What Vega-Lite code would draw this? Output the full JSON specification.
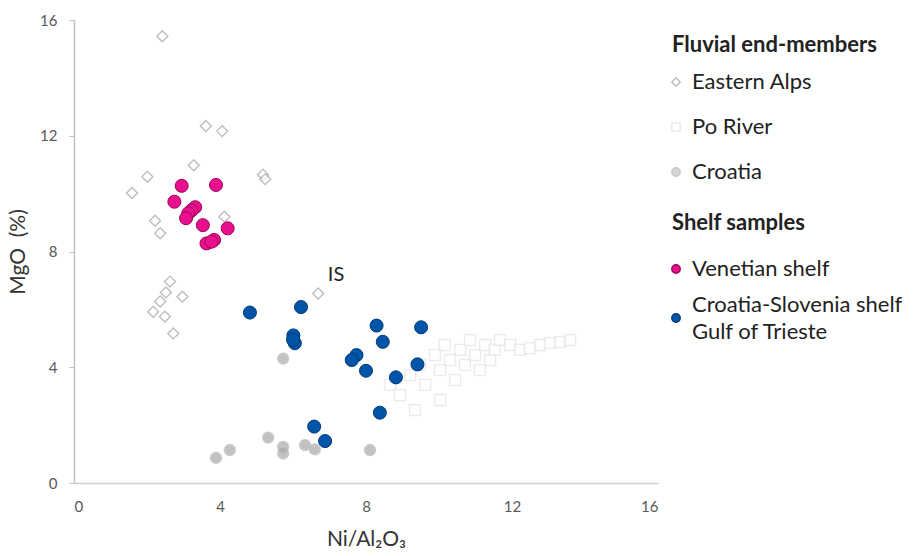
{
  "$schema": "https://vega.github.io/schema/vega-lite/v6.json",
  "width": 584,
  "height": 463,
  "autosize": {"type": "none"},
  "padding": {"left": 74, "top": 20, "right": 262, "bottom": 73},
  "background": "white",
  "config": {
    "view": {"stroke": null},
    "font": "Lato",
    "axis": {"grid": false, "labelFont": "Lato", "labelFontSize": 15, "labelColor": "#595959", "titleFont": "Lato", "titleFontWeight": "normal", "titleColor": "#333333", "titleFontSize": 21, "domainColor": "#c0c0c0", "domainWidth": 1.5, "tickColor": "#c0c0c0"},
    "legend": {"titleFont": "Lato", "titleFontSize": 22, "titleFontWeight": "bold", "titleColor": "#222222", "labelFont": "Lato", "labelFontSize": 22, "labelColor": "#222222", "orient": "none", "symbolSize": 70, "symbolOffset": -7, "labelOffset": 5, "labelLimit": 400, "titleLimit": 400}
  },
  "datasets": {
    "pts": [
      {"x": 2.42, "y": 15.44, "group": "Eastern Alps"},
      {"x": 3.61, "y": 12.34, "group": "Eastern Alps"},
      {"x": 4.06, "y": 12.16, "group": "Eastern Alps"},
      {"x": 3.28, "y": 10.98, "group": "Eastern Alps"},
      {"x": 2.01, "y": 10.58, "group": "Eastern Alps"},
      {"x": 1.59, "y": 10.02, "group": "Eastern Alps"},
      {"x": 5.18, "y": 10.65, "group": "Eastern Alps"},
      {"x": 5.24, "y": 10.5, "group": "Eastern Alps"},
      {"x": 4.12, "y": 9.2, "group": "Eastern Alps"},
      {"x": 2.22, "y": 9.06, "group": "Eastern Alps"},
      {"x": 2.36, "y": 8.63, "group": "Eastern Alps"},
      {"x": 2.63, "y": 6.96, "group": "Eastern Alps"},
      {"x": 2.52, "y": 6.58, "group": "Eastern Alps"},
      {"x": 2.97, "y": 6.44, "group": "Eastern Alps"},
      {"x": 2.36, "y": 6.27, "group": "Eastern Alps"},
      {"x": 2.17, "y": 5.92, "group": "Eastern Alps"},
      {"x": 2.49, "y": 5.75, "group": "Eastern Alps"},
      {"x": 2.72, "y": 5.17, "group": "Eastern Alps"},
      {"x": 6.69, "y": 6.55, "group": "Eastern Alps"},
      {"x": 8.66, "y": 3.39, "group": "Po River"},
      {"x": 8.93, "y": 3.04, "group": "Po River"},
      {"x": 9.21, "y": 3.73, "group": "Po River"},
      {"x": 9.34, "y": 2.52, "group": "Po River"},
      {"x": 9.48, "y": 4.08, "group": "Po River"},
      {"x": 9.62, "y": 3.39, "group": "Po River"},
      {"x": 9.89, "y": 4.42, "group": "Po River"},
      {"x": 10.03, "y": 3.9, "group": "Po River"},
      {"x": 10.03, "y": 2.87, "group": "Po River"},
      {"x": 10.16, "y": 4.77, "group": "Po River"},
      {"x": 10.3, "y": 4.25, "group": "Po River"},
      {"x": 10.44, "y": 3.56, "group": "Po River"},
      {"x": 10.58, "y": 4.6, "group": "Po River"},
      {"x": 10.71, "y": 4.08, "group": "Po River"},
      {"x": 10.85, "y": 4.94, "group": "Po River"},
      {"x": 10.99, "y": 4.42, "group": "Po River"},
      {"x": 11.12, "y": 3.9, "group": "Po River"},
      {"x": 11.26, "y": 4.77, "group": "Po River"},
      {"x": 11.4, "y": 4.25, "group": "Po River"},
      {"x": 11.53, "y": 4.6, "group": "Po River"},
      {"x": 11.67, "y": 4.94, "group": "Po River"},
      {"x": 11.95, "y": 4.77, "group": "Po River"},
      {"x": 12.22, "y": 4.6, "group": "Po River"},
      {"x": 12.49, "y": 4.66, "group": "Po River"},
      {"x": 12.77, "y": 4.77, "group": "Po River"},
      {"x": 13.04, "y": 4.84, "group": "Po River"},
      {"x": 13.32, "y": 4.87, "group": "Po River"},
      {"x": 13.59, "y": 4.94, "group": "Po River"},
      {"x": 5.73, "y": 4.3, "group": "Croatia"},
      {"x": 5.32, "y": 1.57, "group": "Croatia"},
      {"x": 4.27, "y": 1.14, "group": "Croatia"},
      {"x": 3.89, "y": 0.87, "group": "Croatia"},
      {"x": 5.73, "y": 1.25, "group": "Croatia"},
      {"x": 5.73, "y": 1.02, "group": "Croatia"},
      {"x": 6.33, "y": 1.31, "group": "Croatia"},
      {"x": 6.6, "y": 1.16, "group": "Croatia"},
      {"x": 8.11, "y": 1.14, "group": "Croatia"},
      {"x": 2.95, "y": 10.27, "group": "Venetian shelf"},
      {"x": 3.89, "y": 10.3, "group": "Venetian shelf"},
      {"x": 2.75, "y": 9.72, "group": "Venetian shelf"},
      {"x": 3.32, "y": 9.53, "group": "Venetian shelf"},
      {"x": 3.22, "y": 9.42, "group": "Venetian shelf"},
      {"x": 3.13, "y": 9.32, "group": "Venetian shelf"},
      {"x": 3.07, "y": 9.15, "group": "Venetian shelf"},
      {"x": 3.53, "y": 8.91, "group": "Venetian shelf"},
      {"x": 4.21, "y": 8.8, "group": "Venetian shelf"},
      {"x": 3.84, "y": 8.4, "group": "Venetian shelf"},
      {"x": 3.63, "y": 8.28, "group": "Venetian shelf"},
      {"x": 3.77, "y": 8.34, "group": "Venetian shelf"},
      {"x": 4.82, "y": 5.89, "group": "Croatia-Slovenia shelf Gulf of Trieste"},
      {"x": 6.22, "y": 6.08, "group": "Croatia-Slovenia shelf Gulf of Trieste"},
      {"x": 6.01, "y": 5.1, "group": "Croatia-Slovenia shelf Gulf of Trieste"},
      {"x": 6.05, "y": 4.83, "group": "Croatia-Slovenia shelf Gulf of Trieste"},
      {"x": 6.0, "y": 4.95, "group": "Croatia-Slovenia shelf Gulf of Trieste"},
      {"x": 8.29, "y": 5.44, "group": "Croatia-Slovenia shelf Gulf of Trieste"},
      {"x": 9.51, "y": 5.38, "group": "Croatia-Slovenia shelf Gulf of Trieste"},
      {"x": 8.46, "y": 4.88, "group": "Croatia-Slovenia shelf Gulf of Trieste"},
      {"x": 7.74, "y": 4.42, "group": "Croatia-Slovenia shelf Gulf of Trieste"},
      {"x": 7.61, "y": 4.25, "group": "Croatia-Slovenia shelf Gulf of Trieste"},
      {"x": 8.0, "y": 3.88, "group": "Croatia-Slovenia shelf Gulf of Trieste"},
      {"x": 9.41, "y": 4.1, "group": "Croatia-Slovenia shelf Gulf of Trieste"},
      {"x": 8.82, "y": 3.65, "group": "Croatia-Slovenia shelf Gulf of Trieste"},
      {"x": 8.38, "y": 2.43, "group": "Croatia-Slovenia shelf Gulf of Trieste"},
      {"x": 6.58, "y": 1.95, "group": "Croatia-Slovenia shelf Gulf of Trieste"},
      {"x": 6.88, "y": 1.45, "group": "Croatia-Slovenia shelf Gulf of Trieste"}
    ],
    "labels": [{"x": 7.18, "y": 7.19, "label": "IS"}]
  },
  "layer": [
    {
      "data": {"name": "pts"},
      "transform": [{"filter": "indexof(['Eastern Alps','Po River','Croatia'], datum.group) >= 0"}],
      "mark": {"type": "point", "filled": true, "size": 120, "strokeWidth": 1.4},
      "encoding": {
        "x": {"field": "x", "type": "quantitative", "scale": {"domain": [0, 16], "nice": false}, "axis": {"values": [0, 4, 8, 12, 16], "ticks": false, "labelPadding": 16, "title": "Ni/Al₂O₃", "titlePadding": 14, "domainColor": "#d0d0d0"}},
        "y": {"field": "y", "type": "quantitative", "scale": {"domain": [0, 16], "nice": false}, "axis": {"values": [0, 4, 8, 12, 16], "tickSize": 5, "labelPadding": 12, "title": "MgO\u00a0\u00a0(%)", "titlePadding": 11}},
        "shape": {"field": "group", "type": "nominal", "scale": {"domain": ["Eastern Alps", "Po River", "Croatia"], "range": ["diamond", "square", "circle"]}, "legend": {"title": "Fluvial end-members", "legendX": 598, "legendY": 15, "titlePadding": 14, "rowPadding": 23}},
        "fill": {"field": "group", "type": "nominal", "scale": {"domain": ["Eastern Alps", "Po River", "Croatia"], "range": ["#ffffff", "#ffffff", "#a9a9a9"]}, "legend": {"title": "Fluvial end-members", "legendX": 598, "legendY": 15, "titlePadding": 14, "rowPadding": 23}},
        "stroke": {"field": "group", "type": "nominal", "scale": {"domain": ["Eastern Alps", "Po River", "Croatia"], "range": ["#a3a3a3", "#e3e3e3", "#b5b5b5"]}, "legend": {"title": "Fluvial end-members", "legendX": 598, "legendY": 15, "titlePadding": 14, "rowPadding": 23}}
      }
    },
    {
      "data": {"name": "pts"},
      "transform": [{"filter": "indexof(['Venetian shelf','Croatia-Slovenia shelf Gulf of Trieste'], datum.group) >= 0"}],
      "mark": {"type": "circle", "size": 170, "strokeWidth": 1, "opacity": 1},
      "encoding": {
        "x": {"field": "x", "type": "quantitative"},
        "y": {"field": "y", "type": "quantitative"},
        "fill": {"field": "group", "type": "nominal", "scale": {"domain": ["Venetian shelf", "Croatia-Slovenia shelf Gulf of Trieste"], "range": ["#e8108c", "#0055a8"]}, "legend": {"title": "Shelf samples", "legendX": 598, "legendY": 193, "titlePadding": 23, "rowPadding": 13, "labelExpr": "datum.label == 'Croatia-Slovenia shelf Gulf of Trieste' ? ['Croatia-Slovenia shelf', 'Gulf of Trieste'] : datum.label", "encoding": {"labels": {"dy": {"value": {"expr": "datum.value == 'Croatia-Slovenia shelf Gulf of Trieste' ? -13.5 : 0"}}, "lineHeight": {"value": 27}}}}},
        "stroke": {"field": "group", "type": "nominal", "scale": {"domain": ["Venetian shelf", "Croatia-Slovenia shelf Gulf of Trieste"], "range": ["#a0005e", "#003a78"]}, "legend": {"title": "Shelf samples", "legendX": 598, "legendY": 193, "titlePadding": 23, "rowPadding": 13, "labelExpr": "datum.label == 'Croatia-Slovenia shelf Gulf of Trieste' ? ['Croatia-Slovenia shelf', 'Gulf of Trieste'] : datum.label", "encoding": {"labels": {"dy": {"value": {"expr": "datum.value == 'Croatia-Slovenia shelf Gulf of Trieste' ? -13.5 : 0"}}, "lineHeight": {"value": 27}}}}}
      }
    },
    {
      "data": {"name": "labels"},
      "mark": {"type": "text", "font": "Lato", "fontSize": 20, "color": "#222222"},
      "encoding": {
        "x": {"field": "x", "type": "quantitative"},
        "y": {"field": "y", "type": "quantitative"},
        "text": {"field": "label"}
      }
    }
  ],
  "resolve": {"scale": {"fill": "independent", "stroke": "independent", "shape": "independent"}}
}
